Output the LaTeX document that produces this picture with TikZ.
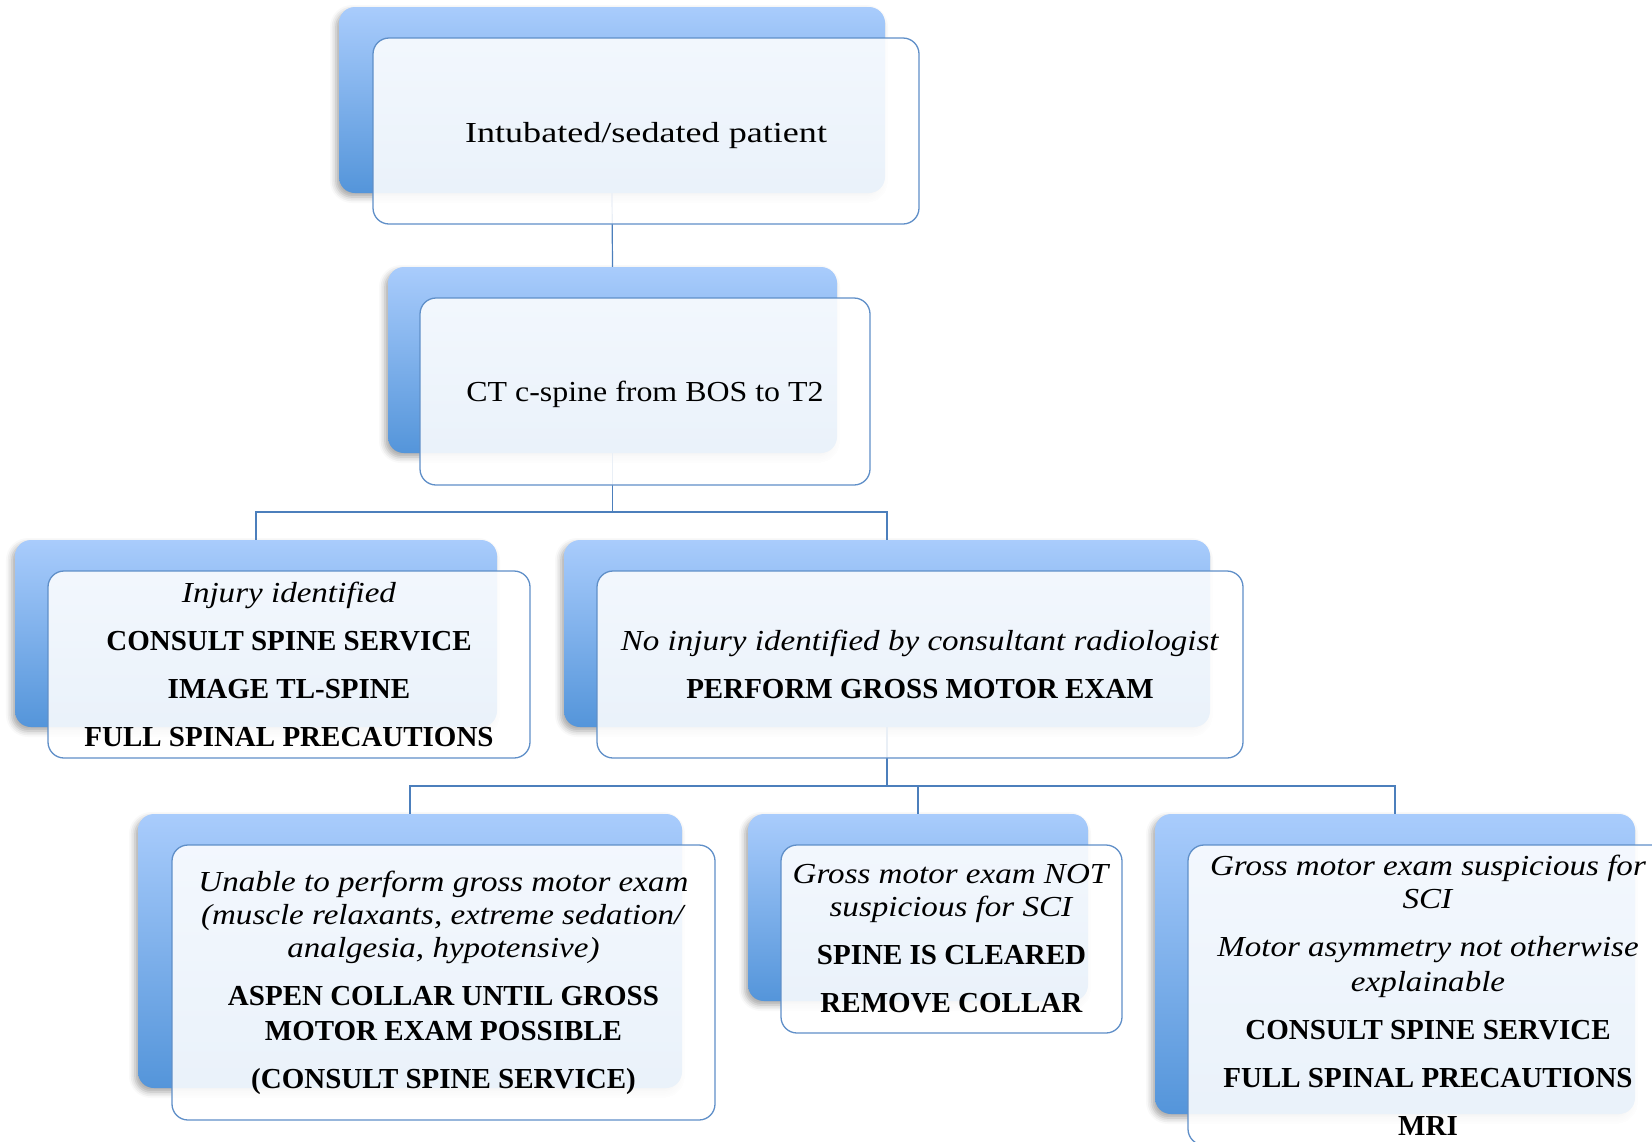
\documentclass[tikz,border=0pt]{standalone}
\usepackage{fontspec}
\setmainfont{Liberation Serif}[UprightFeatures={FakeStretch=1.15},ItalicFeatures={FakeStretch=1.14}]
\newfontfamily\rootfont{Liberation Serif}[FakeStretch=1.245]
\newfontfamily\ctfont{Liberation Serif}[FakeStretch=1.10]
\usetikzlibrary{shadows.blur}
\definecolor{backtop}{HTML}{A9CCFC}
\definecolor{backbot}{HTML}{5495DA}
\definecolor{frontline}{HTML}{5F8FC8}
\definecolor{conn}{HTML}{4C7FBC}
\tikzset{
  backbox/.style={rectangle, rounded corners=16pt, draw=none,
    top color=backtop, bottom color=backbot,
    blur shadow={shadow xshift=-3pt, shadow yshift=-4pt, shadow blur radius=6pt, shadow opacity=35}},
  frontbox/.style={rectangle, rounded corners=16pt, draw=frontline, line width=1.3pt,
    fill=white, fill opacity=0.88, text opacity=1, align=center, inner sep=4pt,
    font=\fontsize{29}{33}\selectfont},
  link/.style={draw=conn, line width=1.2pt}
}
\begin{document}
\begin{tikzpicture}[x=1pt,y=-1pt]
\useasboundingbox (0,0) rectangle (1652,1141);
\clip (0,0) rectangle (1652,1141);
% back boxes
\node[backbox, minimum width=546pt, minimum height=186pt] (b1) at (612,100) {};
\node[backbox, minimum width=449pt, minimum height=186pt] (b2) at (612.5,360) {};
\node[backbox, minimum width=482pt, minimum height=187pt] (b3) at (256,633.5) {};
\node[backbox, minimum width=646pt, minimum height=187pt] (b4) at (887,633.5) {};
\node[backbox, minimum width=544pt, minimum height=274pt] (b5) at (410,951) {};
\node[backbox, minimum width=340pt, minimum height=187pt] (b6) at (918,907.5) {};
\node[backbox, minimum width=480pt, minimum height=300pt] (b7) at (1395,964) {};
% connectors
\coordinate (j1) at (612.5,512);
\coordinate (j2) at (887,786);
\draw[link] (b1.south) -- (b2.north);
\draw[link] (b2.south) -- (j1);
\draw[link] (b3.north) |- (j1) -| (b4.north);
\draw[link] (b4.south) -- (j2);
\draw[link] (b5.north) |- (j2) -| (b7.north);
\draw[link] (b6.north) |- (j2);
% front boxes
\node[frontbox, minimum width=546pt, minimum height=186pt] (f1) at (646,131)
  {\raisebox{-5pt}[\height][\depth]{\rootfont Intubated/sedated patient}};
\node[frontbox, minimum width=450pt, minimum height=187pt] (f2) at (645,391.5)
  {\raisebox{-3pt}[\height][\depth]{\ctfont CT c-spine from BOS to T2}};
\node[frontbox, minimum width=482pt, minimum height=187pt] (f3) at (289,664.5)
  {\textit{Injury identified}\\[15pt]
   \textbf{CONSULT SPINE SERVICE}\\[15pt]
   \textbf{IMAGE TL-SPINE}\\[15pt]
   \textbf{FULL SPINAL PRECAUTIONS}};
\node[frontbox, minimum width=646pt, minimum height=187pt] (f4) at (920,664.5)
  {\textit{No injury identified by consultant radiologist}\\[15pt]
   \textbf{PERFORM GROSS MOTOR EXAM}};
\node[frontbox, minimum width=543pt, minimum height=275pt] (f5) at (443.5,982.5)
  {\textit{Unable to perform gross motor exam}\\
   \textit{(muscle relaxants, extreme sedation/}\\
   \textit{analgesia, hypotensive)}\\[15pt]
   \textbf{ASPEN COLLAR UNTIL GROSS}\\[2pt]
   \textbf{MOTOR EXAM POSSIBLE}\\[15pt]
   \textbf{(CONSULT SPINE SERVICE)}};
\node[frontbox, minimum width=341pt, minimum height=188pt] (f6) at (951.5,939)
  {\textit{Gross motor exam NOT}\\
   \textit{suspicious for SCI}\\[15pt]
   \textbf{SPINE IS CLEARED}\\[15pt]
   \textbf{REMOVE COLLAR}};
\node[frontbox, minimum width=480pt, minimum height=300pt] (f7) at (1428,995)
  {\textit{Gross motor exam suspicious for}\\
   \textit{SCI}\\[15pt]
   \textit{Motor asymmetry not otherwise}\\[2pt]
   \textit{explainable}\\[15pt]
   \textbf{CONSULT SPINE SERVICE}\\[15pt]
   \textbf{FULL SPINAL PRECAUTIONS}\\[15pt]
   \textbf{MRI}};
\end{tikzpicture}
\end{document}
